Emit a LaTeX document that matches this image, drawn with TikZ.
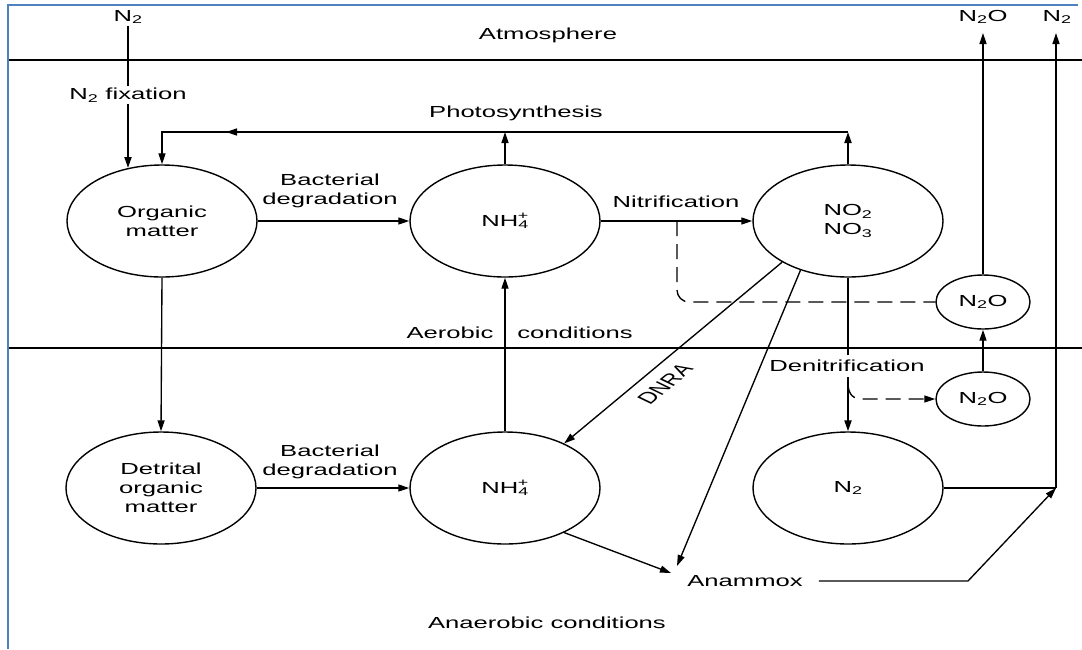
\documentclass[tikz,border=0pt]{standalone}
\usepackage{fontspec}
\setmainfont[FakeStretch=1.6]{Liberation Sans}
\newfontfamily\plainfont{Liberation Sans}
\usetikzlibrary{shapes.geometric,arrows.meta}
\definecolor{borderblue}{RGB}{79,129,189}
\begin{document}
\begin{tikzpicture}[x=1pt,y=-1pt,
  every node/.style={font=\fontsize{16}{19}\selectfont, inner sep=2pt},
  pool/.style={draw, ellipse, line width=1.4pt, minimum width=190pt, minimum height=112pt, inner sep=0pt, align=center},
  smallpool/.style={draw, ellipse, line width=1.4pt, minimum width=94pt, minimum height=54pt, inner sep=0pt},
  conn/.style={line width=1.35pt},
  arr/.style={conn, -{Triangle[length=11pt,width=7pt]}},
  heavy/.style={line width=2pt},
  dashline/.style={conn, dash pattern=on 15pt off 8pt},
  lbl/.style={align=center, inner sep=0pt},
  borderline/.style={draw=borderblue, line width=2.6pt}
]
\useasboundingbox (0,0) rectangle (1082,649);
\fill[white] (0,0) rectangle (1082,649);
\draw[borderline] (7,5) -- (1078,5);
\draw[borderline] (8,4) -- (8,649);
\draw[line width=1.3pt] (9,60) -- (1082,60);
\draw[line width=1.3pt] (9,348) -- (1082,348);

% labels
\node (atm) at (548,35) {Atmosphere};
\node (n2top) at (128,17) {N\textsubscript{2}};
\node (n2otop) at (983,17) {N\textsubscript{2}O};
\node (n2top2) at (1057,17) {N\textsubscript{2}};
\node (fix) at (128,95) {N\textsubscript{2} fixation};
\node (photo) at (516,113) {Photosynthesis};
\node[lbl] (bd1) at (330,191) {Bacterial\\degradation};
\node (nitr) at (676,202) {Nitrification};
\node (aer1) at (450,333) {Aerobic};
\node (aer2) at (575,333) {conditions};
\node[inner ysep=5pt] (deni) at (847,366) {Denitrification};
\node[lbl] (bd2) at (330,462) {Bacterial\\degradation};
\node[inner xsep=16pt] (ana) at (745,581) {Anammox};
\node (anaer) at (547,623) {Anaerobic conditions};
\begin{scope}[xscale=1.6]
\node[rotate=52.4, transform shape, inner sep=0pt, font=\plainfont\fontsize{16}{19}\selectfont] (dnra) at (415.6,384) {DNRA};
\end{scope}

% pools
\node[pool] (om) at (162,221) {Organic\\matter};
\node[pool] (nh4a) at (505,221) {NH\textsubscript{4}\llap{\textsuperscript{+}}};
\node[pool] (no) at (848,221) {NO\textsubscript{2}\\NO\textsubscript{3}};
\node[smallpool] (n2oa) at (983,302) {N\textsubscript{2}O};
\node[smallpool] (n2ob) at (983,399) {N\textsubscript{2}O};
\node[pool] (det) at (161,488) {Detrital\\organic\\matter};
\node[pool] (nh4b) at (505,488) {NH\textsubscript{4}\llap{\textsuperscript{+}}};
\node[pool] (n2b) at (848,488) {N\textsubscript{2}};

% junction coordinates
\coordinate (pR) at (848,132);
\coordinate (pM) at (505,132);
\coordinate (pL) at (162,132);
\coordinate (pA) at (226,132);
\coordinate (pB) at (262,132);
\coordinate (omfix) at (128,168);
\coordinate (nd) at (677,221);
\coordinate (dn) at (848,385);
\coordinate (dc) at (863,399);
\coordinate (a1) at (677,566);
\coordinate (a2) at (671,573);
\coordinate (ak) at (968,581);
\coordinate (j) at (1056,488);
\coordinate (t1) at (983,33);
\coordinate (t2) at (1056,33);

% connectors
\draw[heavy] (n2top.south) -- (fix.north);
\draw[arr, heavy] (fix.south) -- (omfix);
\draw[arr, heavy] (no.north) -- (pR);
\draw[arr] (nh4a.north) -- (pM);
\draw[arr] (pR) -- (pL) -- (om.north);
\draw[arr] (pB) -- (pA);
\draw[arr] (om.east) -- (nh4a.west);
\draw[arr] (nh4a.east) -- (no.west);
\draw[dashline, rounded corners=12pt] (nd) |- (n2oa.west);
\draw[arr] (n2oa.north) -- (t1);
\draw[arr] (n2ob.north) -- (n2oa.south);
\draw[heavy] (no.south) -- (no.south |- deni.north);
\draw[arr, heavy] (no.south |- deni.south) -- (n2b.north);
\draw[dashline, arr] (dn) .. controls (849,395) and (853,399) .. (dc) -- (n2ob.west);
\draw[arr] (om.south) -- (det.north);
\draw[arr] (det.east) -- (nh4b.west);
\draw[arr] (nh4b.north) -- (nh4a.south);
\draw[arr] (no.212) -- (nh4b.37);
\draw[arr] (no.226) -- (a1);
\draw[arr] (nh4b.-37) -- (a2);
\draw[arr] (ana.east) -- (ak) -- (j);
\draw[conn] (n2b.east) -- (j);
\draw[arr] (j) -- (t2);
\end{tikzpicture}
\end{document}
